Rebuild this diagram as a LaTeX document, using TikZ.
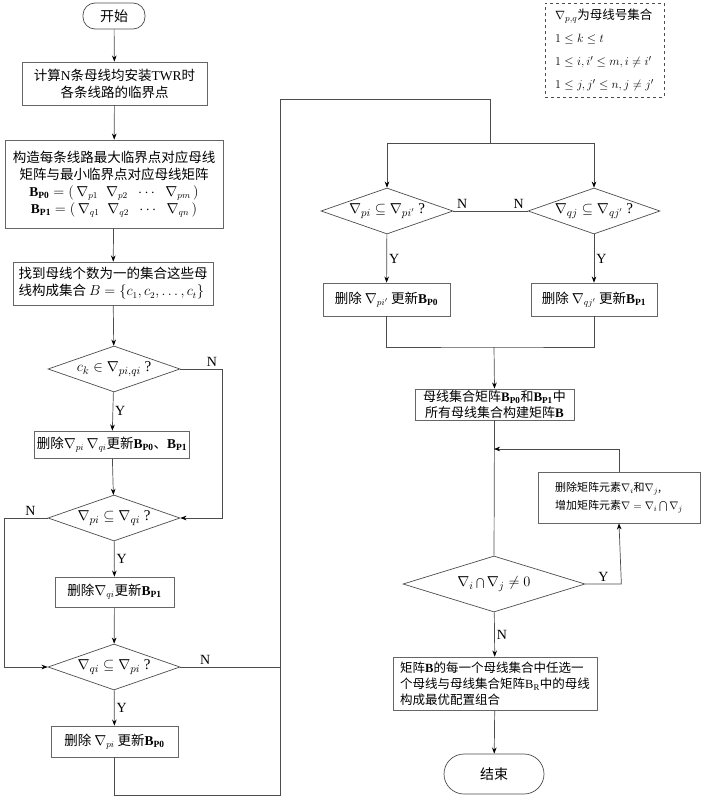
\documentclass[tikz,border=0pt]{standalone}
\usepackage{fontspec}
\setmainfont{Liberation Serif}
\newfontfamily\cjk{Noto Sans CJK SC}
\usetikzlibrary{arrows.meta,shapes.geometric}

\begin{document}
\begin{tikzpicture}[x=1pt,y=-1pt,
		>={Stealth[black]},
		box/.style={draw=black!60,line width=0.7pt,inner sep=2pt,align=center,
			font=\cjk\fontsize{13.5}{17}\selectfont},
		term/.style={draw=black!70,line width=0.7pt,rounded corners=12pt,
			minimum width=62pt,minimum height=26pt,font=\cjk\fontsize{14}{16}\selectfont},
		decision/.style={draw=black!70,line width=0.7pt,diamond,aspect=2.9,inner sep=-2pt,
			minimum width=132pt,minimum height=46pt,font=\fontsize{15}{17}\selectfont},
		lbl/.style={font=\fontsize{14}{16}\selectfont,inner sep=2pt},
		flow/.style={draw=black!70,line width=0.7pt}]
		\useasboundingbox (0,0) rectangle (705,800);
		% left column
		\node[term] (start) at (114,16) {开始};
		\node[box,minimum width=185pt,minimum height=43pt] (calcTWR) at (114.5,83.5)
			{计算{\rmfamily N}条母线均安装{\rmfamily TWR}时\\各条线路的临界点};
		\node[box,minimum width=218pt,minimum height=88pt,inner sep=1pt] (buildB) at (114,184)
			{构造每条线路最大临界点对应母线\\矩阵与最小临界点对应母线矩阵\\
			$\mathbf{B}_{\mathbf{P0}}=\left(\,\nabla_{p1}\;\;\nabla_{p2}\;\;\cdots\;\;\nabla_{pm}\,\right)$\\
			$\mathbf{B}_{\mathbf{P1}}=\left(\,\nabla_{q1}\;\;\nabla_{q2}\;\;\cdots\;\;\nabla_{qn}\,\right)$};
		\node[box,align=left,minimum width=200pt,minimum height=43pt] (findB) at (113,283.5)
			{找到母线个数为一的集合这些母\\线构成集合 $B=\{c_1,c_2,\ldots,c_t\}$};
		\node[decision] (chkC) at (114,369) {$c_k\in\nabla_{pi,qi}$ ?};
		\node[box,minimum width=152pt,minimum height=27pt] (delPQ) at (112,444.5)
			{删除$\nabla_{pi}\,\nabla_{qi}$更新$\mathbf{B}_{\mathbf{P0}}$、$\mathbf{B}_{\mathbf{P1}}$};
		\node[decision] (chkPQ) at (114,518) {$\nabla_{pi}\subseteq\nabla_{qi}$ ?};
		\node[box,minimum width=119pt,minimum height=30pt] (delQ) at (114.5,592)
			{删除$\nabla_{qi}$更新$\mathbf{B}_{\mathbf{P1}}$};
		\node[decision] (chkQP) at (114,667) {$\nabla_{qi}\subseteq\nabla_{pi}$ ?};
		\node[box,minimum width=127pt,minimum height=31pt] (delP) at (114.5,741.5)
			{删除 $\nabla_{pi}$ 更新$\mathbf{B}_{\mathbf{P0}}$};
		% right column
		\node[decision] (chkPP) at (387,211) {$\nabla_{pi}\subseteq\nabla_{pi'}$ ?};
		\node[decision] (chkQQ) at (594,211) {$\nabla_{qj}\subseteq\nabla_{qj'}$ ?};
		\node[box,minimum width=127pt,minimum height=33pt] (delPP) at (386.5,299.5)
			{删除 $\nabla_{pi'}$ 更新$\mathbf{B}_{\mathbf{P0}}$};
		\node[box,minimum width=126pt,minimum height=33pt] (delQQ) at (594,299.5)
			{删除 $\nabla_{qj'}$ 更新$\mathbf{B}_{\mathbf{P1}}$};
		\node[box,minimum width=159pt,minimum height=31pt,inner sep=1pt,
			font=\cjk\fontsize{13}{16}\selectfont] (buildM) at (494.5,404.5)
			{母线集合矩阵$\mathbf{B}_{\mathbf{P0}}$和$\mathbf{B}_{\mathbf{P1}}$中\\所有母线集合构建矩阵$\mathbf{B}$};
		\node[box,align=left,minimum width=162pt,minimum height=51pt,inner sep=1pt,
			font=\cjk\fontsize{11}{18}\selectfont] (updM) at (619,497.5)
			{删除矩阵元素$\nabla_i$和$\nabla_j$,\\增加矩阵元素$\nabla=\nabla_i\bigcap\nabla_j$};
		\node[decision,aspect=3.25,minimum width=182pt,minimum height=56pt] (chkInt) at (494,584)
			{$\nabla_i\bigcap\nabla_j\neq0$};
		\node[box,align=left,minimum width=204pt,minimum height=53pt,inner sep=1pt,
			font=\cjk\fontsize{12.5}{16}\selectfont] (pick) at (495,683.5)
			{矩阵$\mathbf{B}$的每一个母线集合中任选一\\个母线与母线集合矩阵$\mathrm{B}_{\mathrm{R}}$中的母线\\构成最优配置组合};
		\node[term,rounded corners=20pt,minimum width=100pt,minimum height=40pt] (stop) at (494,774) {结束};
		\node[draw=black!70,dashed,align=left,minimum width=119pt,minimum height=94pt,
			inner sep=2pt,font=\cjk\fontsize{12.5}{23}\selectfont] (legend) at (604.5,50)
			{$\nabla_{p,q}$为母线号集合\\$1\le k\le t$\\$1\le i,i'\le m,i\neq i'$\\$1\le j,j'\le n,j\neq j'$};
		% junctions
		\coordinate (rail) at (280,99);
		\coordinate (topT) at (490,143);
		\coordinate (botT) at (494,347);
		\coordinate (fb) at (494,449);
		% connectors
		\path[flow,->] (start) edge (calcTWR) (calcTWR) edge (buildB) (buildB) edge (findB)
			(findB) edge (chkC) (delPQ) edge (chkPQ) (delQ) edge (chkQP)
			(pick) edge (stop);
		\draw[flow,->] (botT) -- (buildM.north);
		\draw[flow,->] (chkC) -- node[lbl,right] {Y} (delPQ);
		\draw[flow,->] (chkC.east) -- node[lbl,above,pos=0.75] {N} ++(42,0) |- (chkPQ.east);
		\draw[flow,->] (chkPQ) -- node[lbl,right] {Y} (delQ);
		\draw[flow,->] (chkPQ.west) -- node[lbl,above,pos=0.4] {N} ++(-43,0) |- (chkQP.west);
		\draw[flow,->] (chkQP) -- node[lbl,right] {Y} (delP);
		\draw[flow] (chkQP.east) -- node[lbl,above,pos=0.25] {N} (chkQP.east -| rail);
		\draw[flow] (delP.south) -- ++(0,38) -| (rail) -| (topT);
		\draw[flow,->] (topT) -| (chkPP.north);
		\draw[flow,->] (topT) -| (chkQQ.north);
		\draw[flow] (chkPP.east) -- node[lbl,above,pos=0.12] {N} node[lbl,above,pos=0.88] {N} (chkQQ.west);
		\draw[flow,->] (chkPP) -- node[lbl,right] {Y} (delPP);
		\draw[flow,->] (chkQQ) -- node[lbl,right] {Y} (delQQ);
		\draw[flow] (delPP.south) |- (botT) -| (delQQ.south);
		\draw[flow] (buildM.south) -- (chkInt.north);
		\draw[flow,->] (chkInt.east) -- node[lbl,above] {Y} ++(36,0) -- (updM.south);
		\draw[flow,->] (updM.north) |- (fb);
		\draw[flow,->] (chkInt) -- node[lbl,right] {N} (pick);
	\end{tikzpicture}
\end{document}
